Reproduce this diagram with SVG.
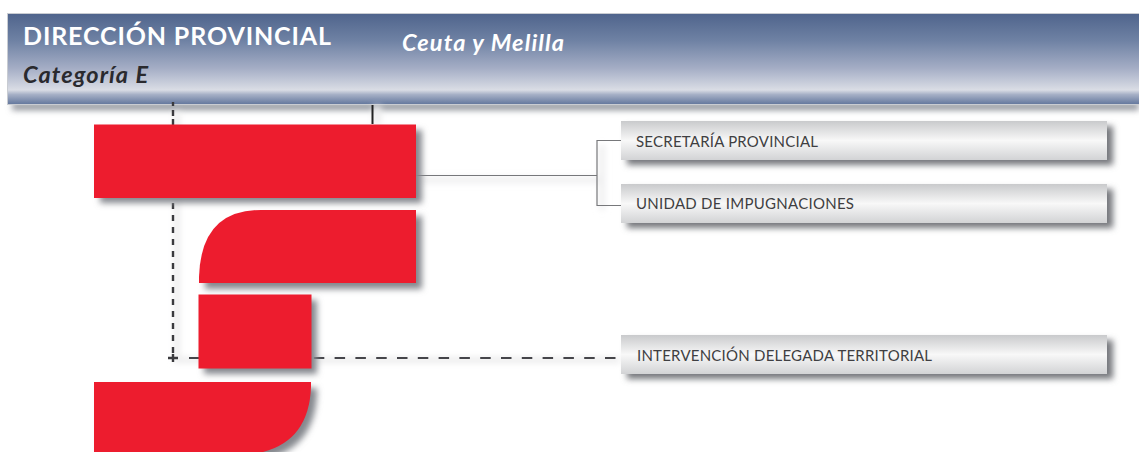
<svg xmlns="http://www.w3.org/2000/svg" width="1139" height="452" viewBox="0 0 1139 452">
<style>
.red{fill:#ed1c2e}
.t{font-family:"Lato","Liberation Sans",sans-serif}
.box{fill:url(#boxg)}
.boxlabel{font-size:15px;fill:#3f3f42}
.sh{filter:url(#blur);fill:#85888e}
.boxsh{filter:url(#blur);fill:#76787d}
.halo{stroke:#ececed;filter:url(#blurl);fill:none}
</style>
<defs>
<linearGradient id="head" x1="0" y1="0" x2="0" y2="1">
<stop offset="0" stop-color="#4f648c"/><stop offset="0.3" stop-color="#6f82a4"/><stop offset="0.6" stop-color="#a4adc5"/><stop offset="0.84" stop-color="#dadde5"/><stop offset="0.89" stop-color="#a6b0c6"/><stop offset="1" stop-color="#62769c"/>
</linearGradient>
<linearGradient id="boxg" x1="0" y1="0" x2="0" y2="1">
<stop offset="0" stop-color="#c9cacc"/><stop offset="0.5" stop-color="#f8f8f8"/><stop offset="1" stop-color="#d2d3d5"/>
</linearGradient>
<filter id="blur" x="-10%" y="-30%" width="120%" height="160%"><feGaussianBlur stdDeviation="3"/></filter>
<filter id="blurl" filterUnits="userSpaceOnUse" x="0" y="90" width="1139" height="362"><feGaussianBlur stdDeviation="3"/></filter>
</defs>

<g id="header">
<rect x="12" y="103" width="1127" height="7" fill="#8b8f97" filter="url(#blurl)"/>
<rect x="7.500" y="13.500" width="1132" height="91" fill="url(#head)" stroke="#c9ccd2" stroke-width="1"/>
<text class="t" x="23" y="45" font-size="25" font-weight="700" fill="#fff" textLength="308" lengthAdjust="spacing">DIRECCIÓN PROVINCIAL</text>
<text class="t" x="402" y="51" font-size="23.500" font-weight="700" font-style="italic" fill="#fff" textLength="162" lengthAdjust="spacing">Ceuta y Melilla</text>
<text class="t" x="23" y="83" font-size="23.500" font-weight="700" font-style="italic" fill="#2a2a2e" textLength="125" lengthAdjust="spacing">Categoría E</text>
</g>

<g id="connectors" fill="none">
<path class="halo" d="M177 112V360H620" stroke-width="6"/>
<path class="halo" d="M377 106V124" stroke="#d4d5d8" stroke-width="8"/>
<path class="halo" d="M420 180H600M602 145V210" stroke-width="5"/>
<path d="M173 102V106M173 110V116" stroke="#3a3a3e" stroke-width="2.400"/>
<path d="M173 119V354" stroke="#3a3a3e" stroke-width="2.400" stroke-dasharray="6 6"/>
<path d="M372.500 105V124" stroke="#222" stroke-width="2"/>
<path d="M168 358H178M173 354V362" stroke="#3a3a3e" stroke-width="2.400"/>
<path d="M189 358H616" stroke="#45454a" stroke-width="2.200" stroke-dasharray="10.500 10.300"/>
<path d="M416 175.500H597" stroke="#77787b" stroke-width="1.200"/>
<path d="M621 140.500H597V205.500H621" stroke="#77787b" stroke-width="1.200"/>
<circle cx="628" cy="357" r="1" fill="#444"/>
</g>

<g id="node-red-1">
<rect class="sh" x="100" y="130" width="322" height="73"/>
<rect class="red" x="94" y="124.500" width="322" height="73.500"/>
</g>
<g id="node-red-2">
<path class="sh" d="M205 289V283Q207 216 267 216H422V289Z"/>
<path class="red" d="M199 283V277Q201 210 261 210H416V283Z"/>
</g>
<g id="node-red-3">
<rect class="sh" x="204" y="300" width="113" height="74"/>
<rect class="red" x="198.500" y="294.500" width="113" height="74"/>
</g>
<g id="node-red-4">
<path class="sh" d="M100 388H317V393Q315 446 269 458H100Z"/>
<path class="red" d="M94 382H311V387Q309 440 263 452H94Z"/>
</g>

<g id="node-secretaria">
<rect class="boxsh" x="627" y="126" width="486" height="39"/>
<rect class="box" x="621" y="121" width="486" height="39"/>
<text class="t boxlabel" x="636" y="146.500" textLength="182" lengthAdjust="spacing">SECRETARÍA PROVINCIAL</text>
</g>
<g id="node-impugnaciones">
<rect class="boxsh" x="627" y="189" width="486" height="39"/>
<rect class="box" x="621" y="184" width="486" height="39"/>
<text class="t boxlabel" x="636" y="208.500" textLength="218" lengthAdjust="spacing">UNIDAD DE IMPUGNACIONES</text>
</g>
<g id="node-intervencion">
<rect class="boxsh" x="627" y="340" width="486" height="39"/>
<rect class="box" x="621" y="335" width="486" height="39"/>
<text class="t boxlabel" x="637" y="360.500" textLength="295" lengthAdjust="spacing">INTERVENCIÓN DELEGADA TERRITORIAL</text>
</g>
</svg>
